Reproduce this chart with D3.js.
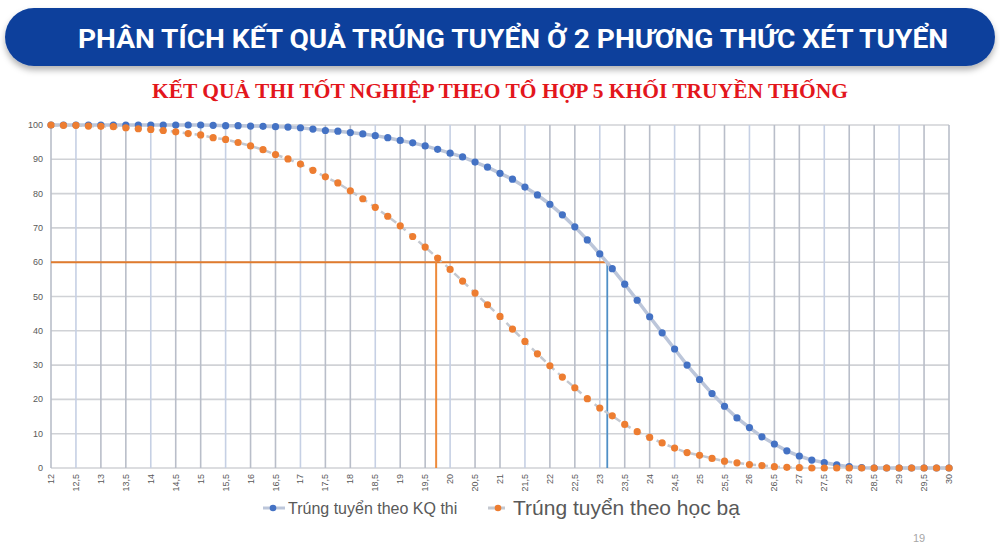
<!DOCTYPE html>
<html lang="vi">
<head>
  <meta charset="UTF-8" />
  <title>Phân tích kết quả trúng tuyển</title>
  <script src="https://cdn.jsdelivr.net/npm/d3@7"></script>
  <style>
    body, html { margin:0; padding:0; background:#fff; }
    #chart { display:block; }
    .tick-label { font: 9px "Liberation Sans", Arial, sans-serif; fill:#595959; }
  </style>
</head>
<body>
  <svg id="chart" width="1000" height="549"></svg>

  <script>
    const pageTitle = 'PHÂN TÍCH KẾT QUẢ TRÚNG TUYỂN Ở 2 PHƯƠNG THỨC XÉT TUYỂN';
    const chartTitle = 'KẾT QUẢ THI TỐT NGHIỆP THEO TỔ HỢP 5 KHỐI TRUYỀN THỐNG';
    const seriesNames = ['Trúng tuyển theo KQ thi', 'Trúng tuyển theo học bạ'];

    // điểm xét tuyển (mỗi 0,25)
    const scores = [
      12, 12.25, 12.5, 12.75, 13, 13.25, 13.5, 13.75, 14, 14.25, 14.5, 14.75,
      15, 15.25, 15.5, 15.75, 16, 16.25, 16.5, 16.75, 17, 17.25, 17.5, 17.75,
      18, 18.25, 18.5, 18.75, 19, 19.25, 19.5, 19.75, 20, 20.25, 20.5, 20.75,
      21, 21.25, 21.5, 21.75, 22, 22.25, 22.5, 22.75, 23, 23.25, 23.5, 23.75,
      24, 24.25, 24.5, 24.75, 25, 25.25, 25.5, 25.75, 26, 26.25, 26.5, 26.75,
      27, 27.25, 27.5, 27.75, 28, 28.25, 28.5, 28.75, 29, 29.25, 29.5, 29.75, 30
    ];

    // % trúng tuyển theo KQ thi
    const examValues = [
      100, 100, 100, 100, 100, 100, 100, 100, 100, 100, 100, 100,
      100, 99.9, 99.8, 99.8, 99.7, 99.6, 99.5, 99.4, 99.2, 98.8, 98.4, 98.2,
      97.8, 97.4, 96.9, 96.3, 95.5, 94.8, 93.9, 92.9, 91.8, 90.7, 89.2, 87.7,
      85.9, 84.2, 81.9, 79.6, 76.9, 73.8, 70.3, 66.5, 62.4, 58.1, 53.6, 48.9,
      44.1, 39.4, 34.7, 30.0, 25.8, 21.7, 18.0, 14.6, 11.8, 9.1, 7.0, 5.0,
      3.5, 2.3, 1.6, 0.9, 0.4, 0.1, 0, 0, 0, 0, 0, 0, 0
    ];

    // % trúng tuyển theo học bạ
    const transcriptValues = [
      100, 99.9, 99.9, 99.7, 99.6, 99.5, 99.2, 98.9, 98.7, 98.4, 98.0, 97.5,
      97.1, 96.3, 95.8, 94.9, 93.9, 92.8, 91.4, 90.1, 88.6, 86.8, 84.9, 83.1,
      80.8, 78.5, 76.0, 73.4, 70.6, 67.5, 64.4, 61.2, 57.9, 54.5, 51.0, 47.6,
      44.2, 40.5, 36.9, 33.3, 29.8, 26.5, 23.4, 20.2, 17.5, 15.2, 12.7, 10.6,
      8.9, 7.3, 5.8, 4.5, 3.7, 2.8, 2.0, 1.5, 1.0, 0.7, 0.4, 0.2,
      0.1, 0, 0, 0, 0, 0, 0, 0, 0, 0, 0, 0, 0
    ];

    const xTickValues = [12, 12.5, 13, 13.5, 14, 14.5, 15, 15.5, 16, 16.5, 17, 17.5, 18, 18.5,
      19, 19.5, 20, 20.5, 21, 21.5, 22, 22.5, 23, 23.5, 24, 24.5, 25, 25.5, 26, 26.5, 27,
      27.5, 28, 28.5, 29, 29.5, 30];
    const yTickValues = [0, 10, 20, 30, 40, 50, 60, 70, 80, 90, 100];

    // mức 60% và điểm tương ứng (học bạ, KQ thi)
    const refLevel = 60;
    const refScores = [19.72, 23.15];

    const svg = d3.select('#chart');
    const W = 1000, H = 549;
    const plot = { left: 51, right: 949, top: 125, bottom: 468 };

    const x = d3.scaleLinear().domain([12, 30]).range([plot.left, plot.right]);
    const y = d3.scaleLinear().domain([0, 100]).range([plot.bottom, plot.top]);

    // banner shadow
    const defs = svg.append('defs');
    const f = defs.append('filter').attr('id', 'shadow')
      .attr('x', '-5%').attr('y', '-30%').attr('width', '110%').attr('height', '180%');
    f.append('feDropShadow').attr('dx', 0).attr('dy', 4).attr('stdDeviation', 3)
      .attr('flood-color', '#000').attr('flood-opacity', 0.3);

    svg.append('rect').attr('width', W).attr('height', H).attr('fill', '#fff');

    svg.append('rect')
      .attr('x', 5).attr('y', 8).attr('width', 990).attr('height', 58)
      .attr('rx', 29).attr('ry', 29)
      .attr('fill', '#0b3f9c')
      .attr('filter', 'url(#shadow)');

    svg.append('text')
      .attr('x', 78).attr('y', 48)
      .attr('textLength', 870).attr('lengthAdjust', 'spacingAndGlyphs')
      .style('font', 'bold 25px Roboto, "Open Sans", sans-serif')
      .attr('fill', '#fff')
      .text(pageTitle);

    svg.append('text')
      .attr('x', 152).attr('y', 98)
      .attr('textLength', 696).attr('lengthAdjust', 'spacingAndGlyphs')
      .style('font', 'bold 22px "Liberation Serif", "Times New Roman", serif')
      .attr('fill', '#e3161c')
      .text(chartTitle);

    // gridlines
    const grid = svg.append('g');
    grid.selectAll('line.h').data(yTickValues).join('line')
      .attr('x1', plot.left).attr('x2', plot.right)
      .attr('y1', d => y(d)).attr('y2', d => y(d))
      .attr('stroke', '#d0d2d6').attr('stroke-width', 1.6);
    grid.selectAll('line.v').data(xTickValues).join('line')
      .attr('x1', d => x(d)).attr('x2', d => x(d))
      .attr('y1', plot.top).attr('y2', plot.bottom)
      .attr('stroke', (d, i) => i % 3 === 1 ? '#c6d0e4' : '#b9bec9')
      .attr('stroke-width', 1.6);

    // y axis labels
    svg.append('g').selectAll('text').data(yTickValues).join('text')
      .attr('class', 'tick-label')
      .attr('x', 43).attr('y', d => y(d) + 3)
      .attr('text-anchor', 'end')
      .text(d => d);

    // x axis labels (rotated)
    svg.append('g').selectAll('text').data(xTickValues).join('text')
      .attr('class', 'tick-label')
      .attr('transform', d => `translate(${x(d) + 3},474) rotate(-90)`)
      .attr('text-anchor', 'end')
      .text(d => String(d).replace('.', ','));

    // reference lines
    svg.append('line')
      .attr('x1', plot.left).attr('x2', x(refScores[1]))
      .attr('y1', y(refLevel)).attr('y2', y(refLevel))
      .attr('stroke', '#e07b2e').attr('stroke-width', 2);
    svg.append('line')
      .attr('x1', x(refScores[0])).attr('x2', x(refScores[0]))
      .attr('y1', y(refLevel)).attr('y2', plot.bottom)
      .attr('stroke', '#ee8a3a').attr('stroke-width', 2);
    svg.append('line')
      .attr('x1', x(refScores[1])).attr('x2', x(refScores[1]))
      .attr('y1', y(refLevel)).attr('y2', plot.bottom)
      .attr('stroke', '#4f8fc6').attr('stroke-width', 1.8);

    const line = d3.line().x(d => x(d[0])).y(d => y(d[1]));
    const examPts = scores.map((s, i) => [s, examValues[i]]);
    const transPts = scores.map((s, i) => [s, transcriptValues[i]]);

    // KQ thi series
    svg.append('path').datum(examPts)
      .attr('d', line).attr('fill', 'none')
      .attr('stroke', '#bcc6da').attr('stroke-width', 3.5);
    svg.append('g').selectAll('circle').data(examPts).join('circle')
      .attr('cx', d => x(d[0])).attr('cy', d => y(d[1])).attr('r', 3.6)
      .attr('fill', '#4472c4');

    // học bạ series
    svg.append('path').datum(transPts)
      .attr('d', line).attr('fill', 'none')
      .attr('stroke', '#c4c8d0').attr('stroke-width', 2.5)
      .attr('stroke-dasharray', '7,5');
    svg.append('g').selectAll('circle').data(transPts).join('circle')
      .attr('cx', d => x(d[0])).attr('cy', d => y(d[1])).attr('r', 3.6)
      .attr('fill', '#ed7d31');

    // legend
    const lg = svg.append('g');
    lg.append('line').attr('x1', 263).attr('x2', 285).attr('y1', 508).attr('y2', 508)
      .attr('stroke', '#bcc6da').attr('stroke-width', 3);
    lg.append('circle').attr('cx', 273).attr('cy', 508).attr('r', 3.3).attr('fill', '#4472c4');
    lg.append('text').attr('x', 288).attr('y', 514)
      .style('font', '16px "Liberation Sans", Arial, sans-serif').attr('fill', '#595959')
      .text(seriesNames[0]);

    lg.append('line').attr('x1', 488).attr('x2', 507).attr('y1', 508).attr('y2', 508)
      .attr('stroke', '#c4c8d0').attr('stroke-width', 3).attr('stroke-dasharray', '7,3');
    lg.append('circle').attr('cx', 498).attr('cy', 508).attr('r', 3.3).attr('fill', '#ed7d31');
    lg.append('text').attr('x', 513).attr('y', 515)
      .style('font', '21px "Liberation Sans", Arial, sans-serif').attr('fill', '#595959')
      .text(seriesNames[1]);

    // page number
    svg.append('text').attr('x', 913).attr('y', 542)
      .style('font', '11px "Liberation Sans", Arial, sans-serif').attr('fill', '#a6a6a6')
      .text('19');
  </script>
</body>
</html>
